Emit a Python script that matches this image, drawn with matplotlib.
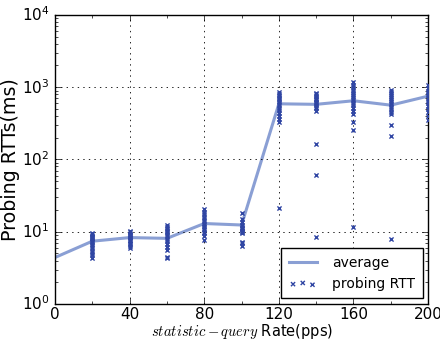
import matplotlib
matplotlib.use("Agg")
import matplotlib.pyplot as plt
import numpy as np

rates = [0, 20, 40, 60, 80, 100, 120, 140, 160, 180, 200]
average = [4.4, 7.4, 8.3, 8.1, 13.0, 12.4, 590, 580, 650, 565, 753]

rtt_20 = [9.6, 9.2, 8.8, 8.5, 8.2, 7.9, 7.5, 7.1, 6.8, 6.3, 5.9, 5.5, 5.0, 4.7, 4.4]
rtt_40 = [10.2, 9.8, 9.4, 9.0, 8.7, 8.4, 8.1, 7.8, 7.4, 7.0, 6.7, 6.3, 5.9]
rtt_60 = [12.4, 11.6, 11.0, 10.4, 9.8, 9.2, 8.6, 8.0, 7.4, 6.8, 6.2, 5.6, 4.5, 4.4]
rtt_80 = [20.6, 19.0, 17.5, 16.0, 15.0, 14.0, 13.0, 12.2, 11.5, 10.8, 10.0, 9.5, 8.8, 7.8]
rtt_100 = [18.3, 15.0, 13.5, 12.5, 11.8, 11.2, 10.8, 10.3, 10.0, 9.6, 7.3, 6.9, 6.4]
rtt_120 = [850, 800, 760, 720, 680, 640, 600, 560, 520, 480, 440, 400, 360, 330, 21]
rtt_140 = [840, 800, 760, 720, 690, 660, 630, 600, 570, 540, 510, 470, 162, 61, 8.4]
rtt_160 = [1180, 1080, 1000, 930, 870, 810, 760, 710, 660, 610, 560, 510, 470, 420, 330, 255, 11.7]
rtt_180 = [930, 870, 810, 760, 710, 660, 620, 580, 540, 500, 460, 420, 305, 212, 7.9]
rtt_200 = [1060, 980, 900, 830, 770, 710, 650, 600, 550, 500, 450, 400, 350]

samples = {20: rtt_20, 40: rtt_40, 60: rtt_60, 80: rtt_80, 100: rtt_100,
           120: rtt_120, 140: rtt_140, 160: rtt_160, 180: rtt_180, 200: rtt_200}

plt.style.use("classic")
plt.rcParams["mathtext.fontset"] = "cm"
plt.rcParams["font.family"] = "DejaVu Sans"

fig = plt.figure(figsize=(4.4, 3.43), dpi=100, facecolor="white")
ax = fig.add_axes([0.125, 0.1137, 0.848, 0.8426])
ax.set_facecolor("white")

ax.plot(rates, average, color="#8a9fd4", lw=2.2, label="average", zorder=2)

xs = []
ys = []
for r, vals in samples.items():
    xs.extend([r] * len(vals))
    ys.extend(vals)
ax.scatter(xs, ys, marker="x", s=9, color="#2f45a3", linewidths=1.0,
           label="probing RTT", zorder=3)

ax.set_yscale("log")
ax.set_xlim(0, 200)
ax.set_ylim(1, 1e4)
ax.set_xticks([0, 40, 80, 120, 160, 200])
ax.set_xticks(np.arange(0, 201, 20), minor=True)
ax.grid(True, which="major", linestyle=":", color="black", linewidth=0.6)
ax.tick_params(labelsize=11)
ax.tick_params(axis="x", pad=2)
ax.set_ylabel("Probing RTTs(ms)", fontsize=13.7, labelpad=1)
ax.set_xlabel("$statistic-query$ Rate(pps)", fontsize=10.5, labelpad=0)

leg = ax.legend(loc="lower right", fontsize=10, scatterpoints=3, numpoints=1,
                borderaxespad=0.4, borderpad=0.55, handlelength=2.0,
                handletextpad=1.1, fancybox=False)
leg.get_frame().set_linewidth(1.0)

fig.savefig("out.png", dpi=100, facecolor="white")
